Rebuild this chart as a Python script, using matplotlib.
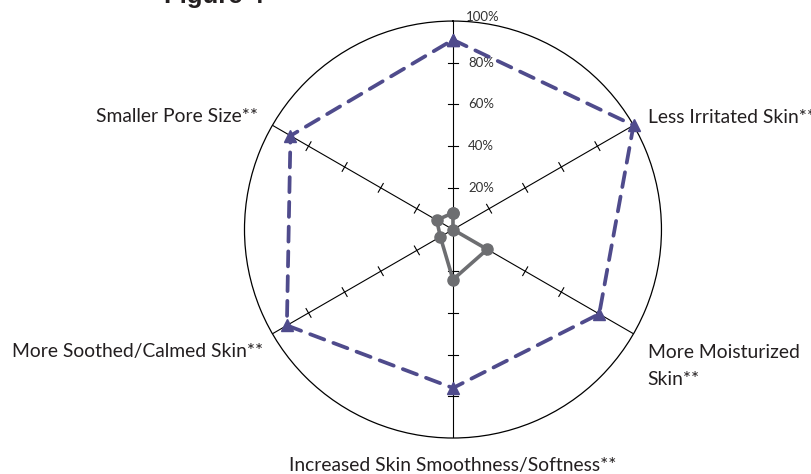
import numpy as np
import matplotlib
matplotlib.use("Agg")
import matplotlib.pyplot as plt

# axis labels, clockwise from the top spoke (top spoke has no label)
categories = ["", "Less Irritated Skin**", "More Moisturized\nSkin**",
              "Increased Skin Smoothness/Softness**", "More Soothed/Calmed Skin**",
              "Smaller Pore Size**"]
treated = [91, 100, 81, 76, 92, 90]   # dashed purple series (%)
baseline = [8, 0, 19, 24, 7, 9]       # solid grey series (%)
ring_values = [20, 40, 60, 80, 100]
ring_labels = ["20%", "40%", "60%", "80%", "100%"]

PURPLE = "#4f4b8c"
GREY = "#6d6e71"
plt.rcParams["font.family"] = ["Lato", "DejaVu Sans"]

fig = plt.figure(figsize=(8.12, 4.74), dpi=100)
ax = fig.add_axes([0.3011, 0.0759, 0.5135, 0.8797], projection="polar")
ax.set_theta_zero_location("N")
ax.set_theta_direction(-1)
ax.set_ylim(0, 100)
ax.grid(False)
ax.set_xticks([])
ax.set_yticks([])
ax.spines["polar"].set_linewidth(0.9)
ax.spines["polar"].set_color("black")

angles = np.deg2rad(np.arange(len(categories)) * 360 / len(categories))

# spokes and small tick marks across them
half = 2.4
for a in angles:
    ax.plot([a, a], [0, 100], color="black", lw=0.8, zorder=1)
    for r in ring_values[:-1]:
        rr = np.hypot(r, half)
        da = np.arctan2(half, r)
        ax.plot([a - da, a + da], [rr, rr], color="black", lw=0.8, zorder=1)

# ring value labels on the top spoke
for r, lab in zip(ring_values, ring_labels):
    dy = 4 if r == 100 else 0
    dx = 13 if r == 100 else 15
    ax.annotate(lab, xy=(0, r), xytext=(dx, dy), textcoords="offset pixels",
                ha="left", va="center", fontsize=9.5, color="#333333",
                annotation_clip=False)

# data
closed = np.append(angles, angles[0])
ax.plot(closed, treated + treated[:1], color=PURPLE, lw=2.7, ls=(0, (4, 2.6)),
        dash_capstyle="round", marker="^", ms=9, zorder=3, clip_on=False)
ax.plot(closed, baseline + baseline[:1], color=GREY, lw=2.6, marker="o", ms=8,
        zorder=3, clip_on=False)

# category labels
offsets = [None, (14, 8, "left", "center"), (14, -32, "left", "center"),
           (0, -27, "center", "center"), (-9, -18, "right", "center"),
           (-14, 9, "right", "center")]
for a, lab, off in zip(angles, categories, offsets):
    if not lab:
        continue
    dx, dy, ha, va = off
    ax.annotate(lab, xy=(a, 100), xytext=(dx, dy), textcoords="offset pixels",
                ha=ha, va=va, fontsize=13.9, color="#231f20", linespacing=1.7,
                annotation_clip=False)

fig.text(214 / 812, 1 - 3 / 474, "Figure 4", ha="center", va="baseline",
         fontsize=18.5, fontweight="bold", family="Liberation Sans", color="#231f20")

plt.savefig("out.png", dpi=100)
